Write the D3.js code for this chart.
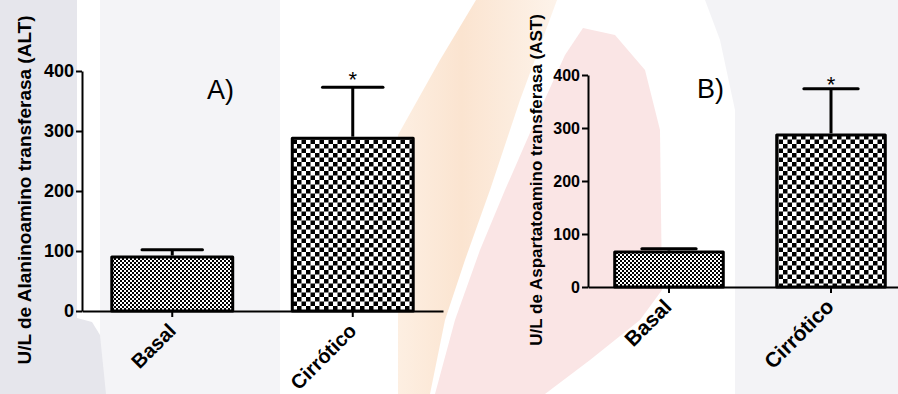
<!DOCTYPE html>
<html>
<head>
<meta charset="utf-8">
<script src="https://cdn.jsdelivr.net/npm/d3@7"></script>
<style>
  html, body { margin: 0; padding: 0; background: #fff; }
  svg { display: block; }
</style>
</head>
<body>
<script>
// Serum transaminases, mean ± SEM, basal vs cirrhotic groups
const categories = ["Basal", "Cirrótico"];
const altMeans = [90, 288];
const altSem = [12, 85];
const astMeans = [66, 287];
const astSem = [6, 87];
const yTicks = [0, 100, 200, 300, 400];
const marks = ["", "*"];

const W = 898, H = 394;
const FONT = "'Liberation Sans', Arial, Helvetica, sans-serif";

const svg = d3.select("body").append("svg")
  .attr("width", W).attr("height", H)
  .attr("viewBox", `0 0 ${W} ${H}`);

const defs = svg.append("defs");

// Checkerboard fills: fine for the basal bar, coarse for the cirrhotic bar
function checker(id, size) {
  const p = defs.append("pattern")
    .attr("id", id)
    .attr("patternUnits", "userSpaceOnUse")
    .attr("width", size * 2).attr("height", size * 2);
  p.append("rect").attr("width", size * 2).attr("height", size * 2).attr("fill", "#fff");
  p.append("rect").attr("x", 0).attr("y", 0).attr("width", size).attr("height", size).attr("fill", "#000");
  p.append("rect").attr("x", size).attr("y", size).attr("width", size).attr("height", size).attr("fill", "#000");
}
checker("fine", 2);
checker("coarse", 4.5);
const fills = ["url(#fine)", "url(#coarse)"];

const peachGrad = defs.append("linearGradient")
  .attr("id", "peach").attr("x1", 0).attr("y1", 0).attr("x2", 1).attr("y2", 0);
peachGrad.append("stop").attr("offset", "0%").attr("stop-color", "#fdefe2");
peachGrad.append("stop").attr("offset", "40%").attr("stop-color", "#fbe4d0");
peachGrad.append("stop").attr("offset", "100%").attr("stop-color", "#fdf3ea");

// Faint background shapes
const bg = svg.append("g");
bg.append("rect").attr("x", 0).attr("y", 0).attr("width", W).attr("height", H).attr("fill", "#fff");
bg.append("rect").attr("x", 100).attr("y", 0).attr("width", 180).attr("height", H).attr("fill", "#f4f4f7");
bg.append("rect").attr("x", 0).attr("y", 0).attr("width", 77).attr("height", H).attr("fill", "#e6e6ec");
bg.append("polygon").attr("points", "77,318 92,322 100,335 106,394 77,394").attr("fill", "#e6e6ec");
bg.append("polygon")
  .attr("points", "476,0 557,0 520,100 490,190 465,260 445,320 430,394 398,394 398,135 440,60")
  .attr("fill", "url(#peach)");
bg.append("polygon")
  .attr("points", "583,28 615,35 645,70 660,130 662,290 640,320 590,360 545,394 435,394 455,320 480,250 505,190 540,110 565,55")
  .attr("fill", "#fae5e5");
bg.append("polygon")
  .attr("points", "705,0 898,0 898,394 735,394 735,110 720,40")
  .attr("fill", "#f3f3f6");

const panels = [
  {
    means: altMeans, sem: altSem,
    x0: 82, x1: 443, y0: 311, y1: 71,
    title: "U/L de Alaninoamino transferasa (ALT)",
    titleX: 31, titleY: 190, titleSize: 19,
    tickSize: 18, catSize: 20, catShift: [5, 21],
    letter: "A)", letterX: 207, letterY: 99,
    starDy: 0
  },
  {
    means: astMeans, sem: astSem,
    x0: 588, x1: 912, y0: 287, y1: 75,
    title: "U/L de Aspartatoamino transferasa (AST)",
    titleX: 542, titleY: 180, titleSize: 17,
    tickSize: 16, catSize: 21, catShift: [4, 21],
    letter: "B)", letterX: 697, letterY: 98,
    starDy: 3
  }
];

panels.forEach(p => {
  const g = svg.append("g");
  const x = d3.scaleBand().domain(categories).range([p.x0, p.x1])
    .paddingInner(0.33).paddingOuter(0.165);
  const y = d3.scaleLinear().domain([0, 400]).range([p.y0, p.y1]);

  // Bars
  g.selectAll("rect.bar").data(categories).join("rect")
    .attr("class", "bar")
    .attr("x", d => x(d))
    .attr("y", (d, i) => y(p.means[i]))
    .attr("width", x.bandwidth())
    .attr("height", (d, i) => y(0) - y(p.means[i]))
    .attr("fill", (d, i) => fills[i])
    .attr("stroke", "#000").attr("stroke-width", 3)
    .attr("stroke-linejoin", "round");

  // Error bars (upper half only)
  const eb = g.selectAll("g.err").data(categories).join("g").attr("class", "err");
  eb.append("line")
    .attr("x1", d => x(d) + x.bandwidth() / 2).attr("x2", d => x(d) + x.bandwidth() / 2)
    .attr("y1", (d, i) => y(p.means[i]) - 1.5)
    .attr("y2", (d, i) => y(p.means[i] + p.sem[i]))
    .attr("stroke", "#000").attr("stroke-width", 3);
  eb.append("line")
    .attr("x1", d => x(d) + x.bandwidth() * 0.25).attr("x2", d => x(d) + x.bandwidth() * 0.75)
    .attr("y1", (d, i) => y(p.means[i] + p.sem[i]))
    .attr("y2", (d, i) => y(p.means[i] + p.sem[i]))
    .attr("stroke", "#000").attr("stroke-width", 3).attr("stroke-linecap", "round");

  // Significance marks
  g.selectAll("text.sig").data(categories).join("text")
    .attr("class", "sig")
    .attr("x", d => x(d) + x.bandwidth() / 2)
    .attr("y", (d, i) => y(p.means[i] + p.sem[i]) + p.starDy)
    .attr("text-anchor", "middle")
    .attr("font-family", FONT).attr("font-size", 22)
    .attr("fill", "#000")
    .text((d, i) => marks[i]);

  // Y axis
  const ya = g.append("g").attr("transform", `translate(${p.x0},0)`)
    .call(d3.axisLeft(y).tickValues(yTicks).tickSize(6).tickSizeOuter(0).tickPadding(2));
  ya.select(".domain").attr("stroke", "#000").attr("stroke-width", 2);
  ya.selectAll(".tick line").attr("stroke", "#000").attr("stroke-width", 2);
  ya.selectAll(".tick text")
    .attr("font-family", FONT).attr("font-size", p.tickSize).attr("font-weight", "bold")
    .attr("fill", "#000");

  // X axis
  const xa = g.append("g").attr("transform", `translate(0,${p.y0})`)
    .call(d3.axisBottom(x).tickSize(6).tickSizeOuter(0));
  xa.select(".domain").attr("stroke", "#000").attr("stroke-width", 2);
  xa.selectAll(".tick line").attr("stroke", "#000").attr("stroke-width", 2);
  xa.selectAll(".tick text")
    .attr("font-family", FONT).attr("font-size", p.catSize).attr("font-weight", "bold")
    .attr("fill", "#000")
    .attr("text-anchor", "end")
    .attr("dy", null)
    .attr("y", 0)
    .attr("transform", `translate(${p.catShift[0]},${p.catShift[1]}) rotate(-45)`);

  // Y axis title
  g.append("text")
    .attr("transform", `translate(${p.titleX},${p.titleY}) rotate(-90)`)
    .attr("text-anchor", "middle")
    .attr("font-family", FONT).attr("font-size", p.titleSize).attr("font-weight", "bold")
    .attr("fill", "#000")
    .text(p.title);

  // Panel letter
  g.append("text")
    .attr("x", p.letterX).attr("y", p.letterY)
    .attr("font-family", FONT).attr("font-size", 27)
    .attr("fill", "#000")
    .text(p.letter);
});
</script>
</body>
</html>
